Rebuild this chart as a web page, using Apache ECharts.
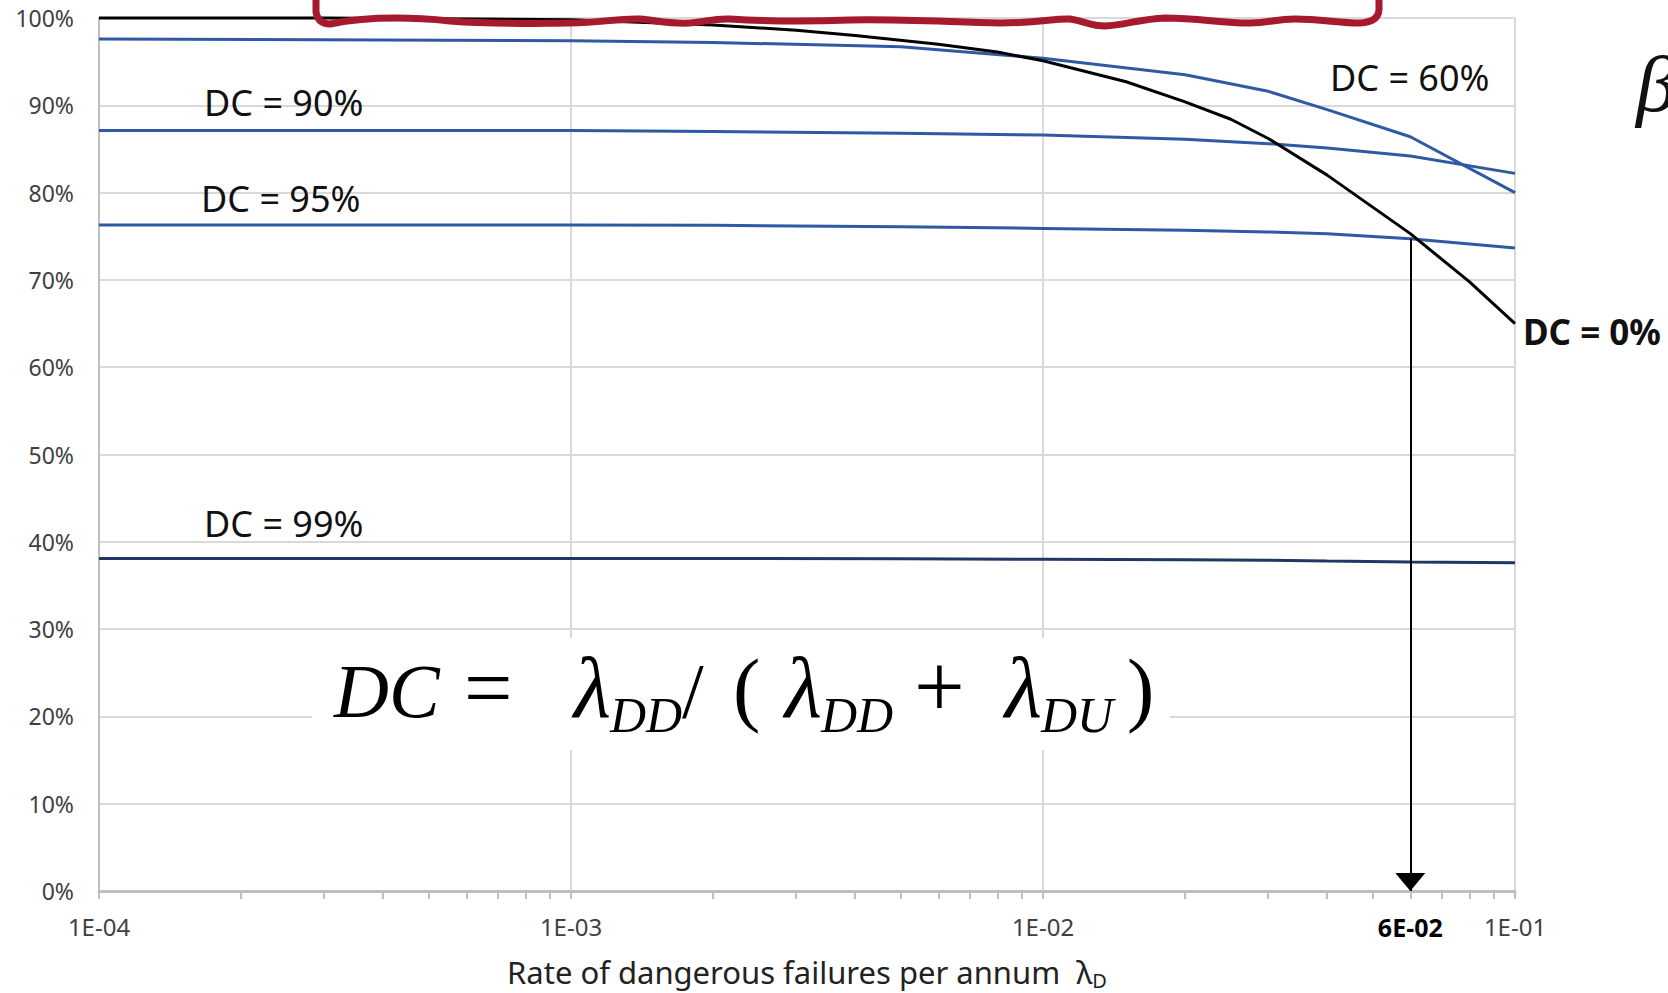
<!DOCTYPE html>
<html>
<head>
<meta charset="utf-8">
<title>DC curves</title>
<script src="https://cdn.jsdelivr.net/npm/echarts@6/dist/echarts.min.js"></script>
<style>
  html, body { margin: 0; padding: 0; background: #fff; }
  #chart { width: 1668px; height: 993px; }
</style>
</head>
<body>
<div id="chart"></div>
<script>
// rate of dangerous failures per annum (log x) vs percentage
var lambdaBlue = [1e-4, 1e-3, 2e-3, 5e-3, 1e-2, 2e-2, 3e-2, 4e-2, 6e-2, 1e-1];
var dc60 = [97.6, 97.4, 97.2, 96.7, 95.4, 93.5, 91.6, 89.5, 86.4, 80.0];
var dc90 = [87.1, 87.1, 87.0, 86.8, 86.6, 86.1, 85.6, 85.1, 84.2, 82.2];
var dc95 = [76.3, 76.3, 76.25, 76.1, 75.9, 75.7, 75.5, 75.3, 74.7, 73.65];
var dc99 = [38.1, 38.1, 38.1, 38.05, 38.0, 37.95, 37.9, 37.8, 37.7, 37.6];

var lambdaBlack = [1e-4, 3e-4, 1e-3, 2e-3, 3e-3, 4e-3, 6e-3, 8e-3, 1e-2, 1.5e-2, 2e-2, 2.5e-2, 3e-2, 4e-2, 6e-2, 8e-2, 1e-1];
var dc0 = [100, 100, 99.8, 99.2, 98.6, 98.0, 97.0, 96.1, 95.1, 92.7, 90.4, 88.4, 86.2, 82.0, 75.3, 69.8, 65.0];

var xTickValues = [1e-4, 1e-3, 1e-2, 6e-2, 1e-1];
var xTickLabels = ['1E-04', '1E-03', '1E-02', '6E-02', '1E-01'];
var yTickStep = 10;

// read-off point: DC = 95% curve at 6E-02, arrow down to the axis
var markedLambda = 6e-2;
var markedValue = dc95[lambdaBlue.indexOf(markedLambda)];

// minor ticks 2..9 of every decade
var minorTicks = [];
[1e-4, 1e-3, 1e-2].forEach(function (d) {
    for (var m = 2; m <= 9; m++) minorTicks.push(m * d);
});

function pairs(xs, ys) {
    return xs.map(function (x, i) { return [x, ys[i]]; });
}

var blue = '#2f5aa2';
var navy = '#1f3864';
var gridColor = '#d9d9d9';
var axisColor = '#bfbfbf';
var labelColor = '#404040';
var sans = '"Noto Sans", sans-serif';
var serif = '"Liberation Serif", serif';

// hand-drawn red bracket along the top edge
echarts.graphic.registerShape('scribble', echarts.graphic.extendPath(
    'M316 0 L316 12 Q318 24 330 24 C360 18 400 16 450 21 C500 25 540 23 570 23 ' +
    'C600 23 620 18 640 19 C660 21 670 24 690 23 C705 22 715 18 730 19 C760 21 800 22 850 20 ' +
    'C900 19 950 22 1000 23 C1040 23 1055 18 1070 19 C1085 21 1090 26 1105 26 C1125 25 1140 19 1165 18 ' +
    'C1200 18 1220 23 1250 23 C1270 23 1275 19 1295 19 C1320 19 1340 23 1360 23 Q1378 22 1379 10 L1379 0'
));

var chart = echarts.init(document.getElementById('chart'), null, { renderer: 'svg' });

function lineSeries(name, data, color) {
    return {
        name: name,
        type: 'line',
        xAxisIndex: 0,
        data: data,
        symbol: 'none',
        clip: false,
        lineStyle: { color: color, width: 3 },
        emphasis: { disabled: true }
    };
}

function label(text, x, y, size, weight) {
    return {
        type: 'text', x: x, y: y, z: 20,
        style: {
            text: text, fill: '#111',
            font: (weight || 'normal') + ' ' + size + 'px ' + sans,
            align: 'left', verticalAlign: 'middle'
        }
    };
}

// formula pieces: text, x, size, italic, baseline, align
var formulaParts = [
    ['DC', 334, 76, true, 716, 'left'],
    ['=', 464, 86, false, 716, 'left'],
    ['λ', 611, 86, true, 716, 'right'],
    ['DD', 610, 50, true, 731, 'left'],
    ['/', 682, 78, false, 716, 'left'],
    ['(', 733, 82, false, 716, 'left'],
    ['λ', 822, 86, true, 716, 'right'],
    ['DD', 821, 50, true, 731, 'left'],
    ['+', 914, 90, false, 716, 'left'],
    ['λ', 1042, 86, true, 716, 'right'],
    ['DU', 1041, 50, true, 731, 'left'],
    [')', 1127, 82, false, 716, 'left']
];

var graphics = [
    { type: 'rect', z: 5, shape: { x: 312, y: 638, width: 858, height: 112 }, style: { fill: '#fff' } },
    label('DC = 90%', 204, 102, 36),
    label('DC = 95%', 201, 198, 36),
    label('DC = 99%', 204, 523, 36),
    label('DC = 60%', 1330, 77, 36),
    label('DC = 0%', 1523, 331, 35, 'bold'),
    {
        type: 'text', x: 1636, y: 84, z: 20,
        style: { text: 'β', fill: '#111', font: 'italic 80px ' + serif, align: 'left', verticalAlign: 'middle' }
    },
    {
        type: 'scribble', z: 30,
        style: { stroke: '#a6192e', lineWidth: 7, fill: null, lineCap: 'round', lineJoin: 'round' }
    }
];

formulaParts.forEach(function (p) {
    graphics.push({
        type: 'text', x: p[1], y: p[4] - p[2] * 0.33, z: 20,
        style: {
            text: p[0], fill: '#000',
            font: (p[3] ? 'italic ' : '') + p[2] + 'px ' + serif,
            align: p[5], verticalAlign: 'middle'
        }
    });
});

var option = {
    animation: false,
    backgroundColor: '#fff',
    grid: { left: 99, top: 18, width: 1416, height: 873, outerBoundsMode: 'none' },
    xAxis: [{
        type: 'log',
        logBase: 10,
        min: 1e-4,
        max: 1e-1,
        position: 'bottom',
        name: 'Rate of dangerous failures per annum  λ{sub|D}',
        nameLocation: 'middle',
        nameGap: 63,
        nameTextStyle: {
            color: '#222', fontFamily: sans, fontSize: 31,
            rich: { sub: { fontFamily: sans, fontSize: 20, color: '#222', padding: [16, 0, 0, 0], verticalAlign: 'bottom' } }
        },
        axisLine: { show: true, lineStyle: { color: axisColor, width: 3 } },
        axisTick: { show: true, length: 8, lineStyle: { color: axisColor, width: 2 } },
        axisLabel: {
            customValues: xTickValues,
            margin: 23,
            color: labelColor,
            fontFamily: sans,
            fontSize: 24,
            formatter: function (v) {
                for (var i = 0; i < xTickValues.length; i++) {
                    if (Math.abs(v / xTickValues[i] - 1) < 1e-6) {
                        return xTickValues[i] === markedLambda ? '{b|' + xTickLabels[i] + '}' : xTickLabels[i];
                    }
                }
                return '';
            },
            rich: { b: { fontFamily: sans, fontSize: 25, fontWeight: 'bold', color: '#000' } }
        },
        splitLine: { show: true, lineStyle: { color: gridColor, width: 2 } }
    }, {
        type: 'log',
        logBase: 10,
        min: 1e-4,
        max: 1e-1,
        position: 'bottom',
        axisLine: { show: false },
        axisLabel: { show: false },
        splitLine: { show: false },
        axisTick: { show: true, length: 8, customValues: minorTicks, lineStyle: { color: axisColor, width: 2 } }
    }],
    yAxis: {
        type: 'value',
        min: 0,
        max: 100,
        interval: yTickStep,
        axisLine: { show: true, lineStyle: { color: axisColor, width: 2 } },
        axisTick: { show: false },
        axisLabel: { formatter: '{value}%', margin: 25, color: labelColor, fontFamily: sans, fontSize: 23 },
        splitLine: { show: true, lineStyle: { color: gridColor, width: 2 } }
    },
    series: [
        lineSeries('DC = 99%', pairs(lambdaBlue, dc99), navy),
        lineSeries('DC = 95%', pairs(lambdaBlue, dc95), blue),
        lineSeries('DC = 90%', pairs(lambdaBlue, dc90), blue),
        lineSeries('DC = 60%', pairs(lambdaBlue, dc60), blue),
        lineSeries('DC = 0%', pairs(lambdaBlack, dc0), '#000'),
        {
            name: 'read-off',
            type: 'line',
            xAxisIndex: 0,
            data: [],
            markLine: {
                silent: true,
                symbol: ['none', 'triangle'],
                symbolSize: [30, 18],
                symbolOffset: [[0, 0], [0, 9]],
                label: { show: false },
                lineStyle: { color: '#000', width: 2, type: 'solid' },
                data: [[{ coord: [markedLambda, markedValue] }, { coord: [markedLambda, 0] }]]
            }
        }
    ],
    graphic: graphics
};

chart.setOption(option);
</script>
</body>
</html>
